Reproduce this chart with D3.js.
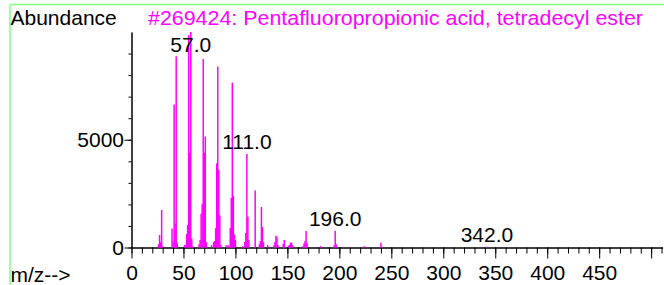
<!DOCTYPE html>
<html>
<head>
<meta charset="utf-8">
<script src="https://cdn.jsdelivr.net/npm/d3@7"></script>
<style>
  body { margin: 0; background: #fff; }
  svg text { font-family: "Liberation Sans", Arial, sans-serif; }
</style>
</head>
<body>
<div id="chart-area"></div>
<script>
// spectrum sticks
const mzValues = [26, 27, 28, 29, 30, 39, 40, 41, 42, 43, 44, 51, 52, 53, 54, 55, 56, 57, 58, 59,
    65, 66, 67, 68, 69, 70, 71, 72, 77, 79, 80, 81, 82, 83, 84, 85, 86, 91, 93, 95, 96, 97, 98, 99, 100,
    107, 109, 110, 111, 112, 113, 119, 123, 124, 125, 126, 127, 131, 137, 138, 139, 140, 141,
    146, 147, 151, 152, 153, 154, 155, 165, 166, 167, 168, 169, 182, 195, 196, 197, 210, 224, 240, 241, 342];
const abundances = [150, 580, 250, 1740, 60, 880, 270, 6630, 1100, 8880, 200, 120, 100, 620, 1050, 9850, 4400, 10000, 420, 60,
    150, 350, 1570, 2030, 8750, 4400, 5150, 250, 120, 250, 300, 900, 3900, 8400, 3600, 1500, 120, 100, 120, 900, 2300, 7650, 2400, 600, 350,
    60, 250, 680, 4340, 1430, 350, 2650, 150, 300, 1880, 950, 250, 120, 100, 250, 540, 500, 100,
    160, 350, 80, 120, 230, 220, 120, 60, 180, 300, 760, 200, 60, 100, 780, 150, 40, 60, 220, 40, 30];
const labelledPeaks = [57, 111, 196, 342];
const xMajorTicks = [0, 50, 100, 150, 200, 250, 300, 350, 400, 450, 500];
const xTickLabels = ["0", "50", "100", "150", "200", "250", "300", "350", "400", "450", ""];
const yMajorTicks = [0, 5000];
const yTickLabels = ["0", "5000"];
const yMinorTicks = d3.range(0, 10000, 1000);
const xMinorTicks = d3.range(0, 520, 10);
const titleText = "#269424: Pentafluoropropionic acid, tetradecyl ester";

const width = 664, height = 285;
const pink = "#ff00ff";
const green = "#80ff80";

const peaks = mzValues.map((m, i) => ({ mz: m, ab: abundances[i] }));

const svg = d3.select("#chart-area")
    .append("svg")
    .attr("width", width)
    .attr("height", height);

// frame lines (top + left)
svg.append("line")
    .attr("x1", 10).attr("x2", width)
    .attr("y1", 4.5).attr("y2", 4.5)
    .attr("stroke", green).attr("stroke-width", 1.5);
svg.append("line")
    .attr("x1", 10).attr("x2", 10)
    .attr("y1", 4.5).attr("y2", height)
    .attr("stroke", green).attr("stroke-width", 1.5);

const x = d3.scaleLinear().domain([0, 511]).range([131.5, 131.5 + 511 * 1.0393]);
const y = d3.scaleLinear().domain([0, 10000]).range([247.5, 32]);

// x axis: minor then major ticks
svg.append("g")
    .attr("transform", `translate(0, ${y(0)})`)
    .call(d3.axisBottom(x).tickValues(xMinorTicks).tickSize(6).tickSizeOuter(0).tickFormat(""));
svg.append("g")
    .attr("transform", `translate(0, ${y(0)})`)
    .call(d3.axisBottom(x).tickValues(xMajorTicks).tickSize(11).tickSizeOuter(0).tickPadding(7)
        .tickFormat((d, i) => xTickLabels[i]));

// y axis
svg.append("g")
    .attr("transform", `translate(${x(0)}, 0)`)
    .call(d3.axisLeft(y).tickValues(yMinorTicks).tickSize(3).tickSizeOuter(0).tickFormat(""));
svg.append("g")
    .attr("transform", `translate(${x(0)}, 0)`)
    .call(d3.axisLeft(y).tickValues(yMajorTicks).tickSize(7).tickSizeOuter(0).tickPadding(0.5)
        .tickFormat((d, i) => yTickLabels[i]));

svg.selectAll(".domain").attr("stroke", "#000");
svg.selectAll(".tick line").attr("stroke", "#000");
svg.selectAll(".tick text")
    .attr("font-size", 21)
    .attr("font-family", "Liberation Sans, Arial, sans-serif")
    .attr("fill", "#000");

// sticks
svg.append("g")
    .selectAll("line")
    .data(peaks)
    .join("line")
    .attr("x1", d => x(d.mz)).attr("x2", d => x(d.mz))
    .attr("y1", y(0)).attr("y2", d => y(d.ab))
    .attr("stroke", pink)
    .attr("stroke-width", 1.5);

// peak labels, kept inside the plot at the top
svg.append("g")
    .selectAll("text")
    .data(peaks.filter(d => labelledPeaks.includes(d.mz)))
    .join("text")
    .attr("x", d => x(d.mz))
    .attr("y", d => Math.max(y(d.ab) - 5, y.range()[1] + 20))
    .attr("text-anchor", "middle")
    .attr("font-size", 21)
    .attr("fill", "#000")
    .text(d => d.mz.toFixed(1));

// titles
svg.append("text")
    .attr("x", 10.5).attr("y", 25)
    .attr("font-size", 21)
    .text("Abundance");
svg.append("text")
    .attr("x", 148).attr("y", 25)
    .attr("font-size", 21)
    .attr("fill", pink)
    .attr("textLength", 495)
    .attr("lengthAdjust", "spacingAndGlyphs")
    .text(titleText);
svg.append("text")
    .attr("x", 10.5).attr("y", 281.5)
    .attr("font-size", 21)
    .text("m/z-->");
</script>
</body>
</html>
